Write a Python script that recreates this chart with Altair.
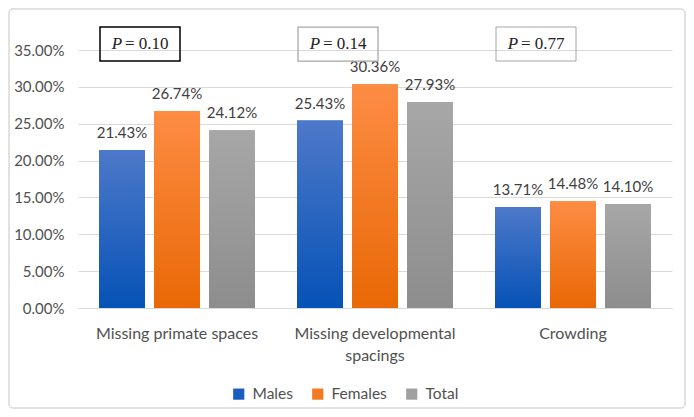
import altair as alt
import pandas as pd

categories = ["Missing primate spaces", "Missing developmental spacings", "Crowding"]
series = ["Males", "Females", "Total"]
males = [21.43, 25.43, 13.71]
females = [26.74, 30.36, 14.48]
total = [24.12, 27.93, 14.10]
p_values = ["= 0.10", "= 0.14", "= 0.77"]

FONT = "Lato"
legend_colors = ["#1a5cbf", "#f27a22", "#a0a0a0"]
grad_stops = {
    "Males": ("#4d79c9", "#0652b6"),
    "Females": ("#fd8c44", "#e96805"),
    "Total": ("#a7a7a7", "#8d8d8d"),
}

rows = []
for i, c in enumerate(categories):
    for s, vals in zip(series, [males, females, total]):
        rows.append({"category": c, "series": s, "value": vals[i] / 100,
                     "label": f"{vals[i]:.2f}%"})
df = pd.DataFrame(rows)
ann = pd.DataFrame({"category": categories, "p": ["P"] * 3, "pv": p_values})

x_enc = alt.X("category:N", sort=categories,
              scale=alt.Scale(domain=categories, paddingInner=0, paddingOuter=0),
              axis=alt.Axis(title=None, labelAngle=0, ticks=False, domain=True,
                            domainColor="#d9d9d9", labelPadding=17, labelFontSize=16,
                            labelColor="#505050", labelFont=FONT, grid=False,
                            labelLineHeight=22,
                            labelExpr="datum.label == 'Missing developmental spacings' ? ['Missing developmental', 'spacings'] : datum.label"))
xoff_enc = alt.XOffset("series:N", sort=series,
                       scale=alt.Scale(domain=series, paddingInner=0.164, paddingOuter=0.382))
y_enc = alt.Y("value:Q", scale=alt.Scale(domain=[0, 0.35], nice=False),
              axis=alt.Axis(title=None, format=".2%", values=[0, 0.05, 0.10, 0.15, 0.20, 0.25, 0.30, 0.35],
                            domain=False, ticks=False, labelPadding=14, labelFontSize=15,
                            labelColor="#505050", labelFont=FONT, gridColor="#d9d9d9"))

base = alt.Chart(df).encode(x=x_enc, xOffset=xoff_enc, y=y_enc)

legend_bars = base.mark_bar().encode(
    color=alt.Color("series:N", sort=series,
                    scale=alt.Scale(domain=series, range=legend_colors),
                    legend=alt.Legend(title=None, orient="none", legendX=153, legendY=336,
                                      direction="horizontal", symbolType="square",
                                      symbolSize=125, symbolStrokeWidth=0,
                                      labelFontSize=15.5, labelColor="#505050", labelFont=FONT,
                                      columnPadding=17, labelOffset=6))
)

layers = [legend_bars]
for s in series:
    top, bot = grad_stops[s]
    grad = alt.LinearGradient(gradient="linear",
                              stops=[alt.GradientStop(color=top, offset=0),
                                     alt.GradientStop(color=bot, offset=1)],
                              x1=0, x2=0, y1=0, y2=1)
    layers.append(base.transform_filter(alt.datum.series == s).mark_bar(fill=grad))

labels = base.mark_text(dy=-9, baseline="bottom", fontSize=15, font=FONT,
                        color="#404040").encode(text="label:N")
layers.append(labels)

ann_base = alt.Chart(ann).encode(x=alt.X("category:N", sort=categories), y=alt.value(-6))
box_path = "M-1.925,-0.425L0.075,-0.425L0.075,0.425L-1.925,0.425Z"
boxes = ann_base.mark_point(shape=box_path, size=6400, filled=False, opacity=1).encode(
    stroke=alt.Stroke("category:N", scale=alt.Scale(domain=categories,
                      range=["#000000", "#a6a6a6", "#a6a6a6"]), legend=None),
    strokeWidth=alt.StrokeWidth("category:N", scale=alt.Scale(domain=categories,
                      range=[1.5, 1, 1]), legend=None),
)
ptext = ann_base.mark_text(font="Liberation Serif", fontStyle="italic", fontSize=17,
                           dx=-60, align="center", baseline="middle", color="#222222").encode(text="p:N")
pvtext = ann_base.mark_text(font="Liberation Serif", fontSize=17, dx=-52, align="left",
                            baseline="middle", color="#222222").encode(text="pv:N")

border = alt.Chart(pd.DataFrame({"a": [0]})).mark_rect(
    fill="transparent", stroke="#d9d9d9", strokeWidth=1.5, cornerRadius=4
).encode(x=alt.value(-69), x2=alt.value(607), y=alt.value(-41), y2=alt.value(358))

chart = alt.layer(border, *layers, boxes, ptext, pvtext).resolve_scale(
    stroke="independent", strokeWidth="independent"
).properties(
    width=594, height=258,
    autosize=alt.AutoSizeParams(type="none"),
    padding={"left": 70, "top": 42, "right": 14, "bottom": 101},
    background="white",
).configure_view(stroke=None)

chart.save("out.html", embed_options={"renderer": "svg", "actions": False})
